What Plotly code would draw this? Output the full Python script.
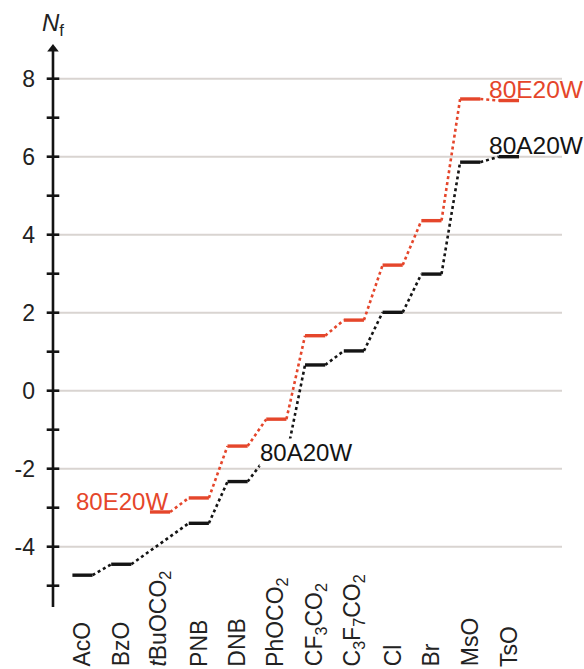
import plotly.graph_objects as go

# ---------------- data ----------------
categories = ["AcO", "BzO", "<i>t</i>BuOCO<sub>2</sub>", "PNB", "DNB",
              "PhOCO<sub>2</sub>", "CF<sub>3</sub>CO<sub>2</sub>",
              "C<sub>3</sub>F<sub>7</sub>CO<sub>2</sub>", "Cl", "Br", "MsO", "TsO"]
nf_80A20W = [-4.73, -4.45, None, -3.40, -2.33, -1.70, 0.66, 1.02, 2.01, 2.99, 5.86, 6.00]
nf_80E20W = [None, None, -3.11, -2.75, -1.42, -0.73, 1.41, 1.81, 3.22, 4.36, 7.48, 7.44]
y_tick_vals = [-4, -2, 0, 2, 4, 6, 8]
y_tick_text = ["-4", "-2", "0", "2", "4", "6", "8"]
y_unit_ticks = list(range(-5, 9))

BLACK = "#141414"
RED = "#e5462b"
GRID = "#d9d4d1"
FONT = "Liberation Sans, Arial, Helvetica, sans-serif"

HALF = 0.26          # half width of a level segment (category units)
X_RANGE = [-1.096, 12.368]
Y_RANGE = [-5.546, 8.941]
X_AXIS = -0.761      # where the vertical axis sits


def step_traces(values, color):
    sx, sy, cx, cy = [], [], [], []
    prev = None
    for i, v in enumerate(values):
        if v is None:
            continue
        sx += [i - HALF, i + HALF, None]
        sy += [v, v, None]
        if prev is not None:
            j, pv = prev
            cx += [j + HALF, i - HALF, None]
            cy += [pv, v, None]
        prev = (i, v)
    conn = go.Scatter(x=cx, y=cy, mode="lines",
                      line=dict(color=color, width=2.6, dash="dot"),
                      hoverinfo="skip", showlegend=False)
    seg = go.Scatter(x=sx, y=sy, mode="lines",
                     line=dict(color=color, width=3.4),
                     hoverinfo="skip", showlegend=False)
    return [conn, seg]


fig = go.Figure()

# gridlines (from the axis to the right end)
for v in y_tick_vals:
    fig.add_shape(type="line", xref="x", yref="y", x0=X_AXIS, x1=X_RANGE[1],
                  y0=v, y1=v, line=dict(color=GRID, width=2), layer="below")

for tr in step_traces(nf_80A20W, BLACK):
    fig.add_trace(tr)
for tr in step_traces(nf_80E20W, RED):
    fig.add_trace(tr)

# vertical axis with arrow and crossing ticks
fig.add_trace(go.Scatter(x=[X_AXIS, X_AXIS], y=[Y_RANGE[0], 8.8], mode="lines",
                         line=dict(color=BLACK, width=2.6), hoverinfo="skip",
                         showlegend=False, cliponaxis=False))
fig.add_trace(go.Scatter(x=[X_AXIS] * len(y_unit_ticks), y=y_unit_ticks, mode="markers",
                         marker=dict(symbol="line-ew", size=9,
                                     line=dict(width=2.6, color=BLACK)),
                         hoverinfo="skip", showlegend=False, cliponaxis=False))
fig.add_trace(go.Scatter(x=[X_AXIS], y=[8.76], mode="markers",
                         marker=dict(symbol="triangle-up", size=10, color=BLACK),
                         hoverinfo="skip", showlegend=False, cliponaxis=False))

annotations = []
# category labels (rotated, bottom aligned)
for i, c in enumerate(categories):
    annotations.append(dict(x=i, y=-0.109, xref="x", yref="paper", text=c,
                            textangle=-90, xanchor="center", yanchor="bottom",
                            showarrow=False, font=dict(family=FONT, size=23, color="#222")))

# axis title
annotations.append(dict(x=X_AXIS, y=1, xref="x", yref="paper", text="<i>N</i><sub>f</sub>",
                        xanchor="center", yanchor="bottom", yshift=0, showarrow=False,
                        font=dict(family=FONT, size=24, color="#222")))

# series labels
annotations.append(dict(x=2 + HALF, y=nf_80E20W[2], xref="x", yref="y", text="80E20W",
                        xanchor="right", yanchor="bottom", yshift=-5, showarrow=False,
                        font=dict(family=FONT, size=24, color=RED)))
annotations.append(dict(x=10.43, y=nf_80E20W[11], xref="x", yref="y", text="80E20W",
                        xanchor="left", yanchor="bottom", yshift=-4, showarrow=False,
                        font=dict(family=FONT, size=24.5, color=RED)))
annotations.append(dict(x=10.43, y=nf_80A20W[11], xref="x", yref="y", text="80A20W",
                        xanchor="left", yanchor="bottom", yshift=-4, showarrow=False,
                        font=dict(family=FONT, size=24.5, color=BLACK)))
annotations.append(dict(x=4.553, y=-1.956, xref="x", yref="y", text="80A20W",
                        xanchor="left", yanchor="bottom", showarrow=False,
                        bgcolor="white", borderpad=0,
                        font=dict(family=FONT, size=24, color=BLACK)))

fig.update_layout(
    width=584, height=669,
    margin=dict(l=40, r=22, t=42, b=62),
    paper_bgcolor="white", plot_bgcolor="white",
    showlegend=False,
    annotations=annotations,
    xaxis=dict(range=X_RANGE, visible=False, fixedrange=True),
    yaxis=dict(range=Y_RANGE, tickvals=y_tick_vals, ticktext=y_tick_text,
               showgrid=False, zeroline=False, showline=False, ticks="",
               ticklabelstandoff=4,
               tickfont=dict(family=FONT, size=23, color="#222"), fixedrange=True),
)

fig.write_html("out.html")
